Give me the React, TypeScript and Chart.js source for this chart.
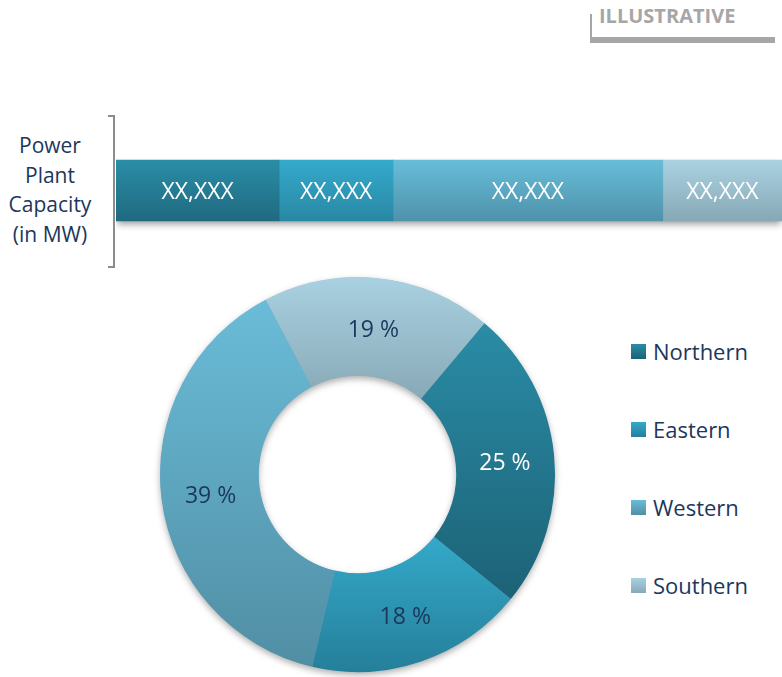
import React, { useEffect, useRef } from 'react';
import { Chart, registerables } from 'chart.js';

Chart.register(...registerables);

// ---------- data ----------
const regions = ['Northern', 'Eastern', 'Western', 'Southern'];
const sharePct = [25, 18, 39, 19];
const barValues = [24.5, 17.1, 40.5, 17.9];
const barLabels = ['XX,XXX', 'XX,XXX', 'XX,XXX', 'XX,XXX'];
const axisTitleLines = ['Power', 'Plant', 'Capacity', '(in MW)'];
const stampText = 'ILLUSTRATIVE';

// ---------- styles ----------
const NAVY = '#1b375c';
const WHITE = 'rgb(255, 255, 255)';
const FONT = '"Open Sans", "DejaVu Sans", sans-serif';
const sliceGrad: string[][] = [
  ['#2a8ca6', '#1c6276'],
  ['#34a9c9', '#257f9a'],
  ['#6abcd8', '#518ea4'],
  ['#a9d1e1', '#88a9b6'],
];
const barGrad: string[][] = [
  ['#2a8da7', '#1f6a80'],
  ['#34aacb', '#2988a4'],
  ['#67bdd9', '#4f92aa'],
  ['#aad2e2', '#87a8b5'],
];
const darkSlice = [true, false, false, false];
const ROTATION = 40;
const BAR_THICK = 61;

function sliceGradient(c: any) {
  const chart = c.chart;
  const i = c.dataIndex ?? 0;
  const cols = sliceGrad[i] || sliceGrad[0];
  const area = chart.chartArea;
  const meta = chart.getDatasetMeta(0);
  const ctrl: any = meta && meta.controller;
  if (!area || !ctrl || !ctrl.outerRadius) return cols[0];
  const cy = (area.top + area.bottom) / 2;
  const R = ctrl.outerRadius;
  const r = ctrl.innerRadius;
  const data = chart.data.datasets[0].data as number[];
  const total = data.reduce((a, b) => a + b, 0);
  let start = (ROTATION * Math.PI) / 180 - Math.PI / 2;
  for (let k = 0; k < i; k++) start += (data[k] / total) * 2 * Math.PI;
  const end = start + (data[i] / total) * 2 * Math.PI;
  const ys = [Math.sin(start) * R, Math.sin(end) * R, Math.sin(start) * r, Math.sin(end) * r];
  const contains = (a: number) => {
    let t = a;
    while (t < start) t += 2 * Math.PI;
    while (t > start + 2 * Math.PI) t -= 2 * Math.PI;
    return t <= end;
  };
  if (contains(-Math.PI / 2)) ys.push(-R);
  if (contains(Math.PI / 2)) ys.push(R);
  const y0 = cy + Math.min(...ys);
  const y1 = cy + Math.max(...ys);
  const g = chart.ctx.createLinearGradient(0, y0, 0, y1);
  g.addColorStop(0, cols[0]);
  g.addColorStop(1, cols[1]);
  return g;
}

function barGradient(c: any) {
  const chart = c.chart;
  const cols = barGrad[c.datasetIndex] || barGrad[0];
  const area = chart.chartArea;
  if (!area) return cols[0];
  const cy = (area.top + area.bottom) / 2;
  const g = chart.ctx.createLinearGradient(0, cy - BAR_THICK / 2, 0, cy + BAR_THICK / 2);
  g.addColorStop(0, cols[0]);
  g.addColorStop(1, cols[1]);
  return g;
}

const ringShadow = {
  id: 'ringShadow',
  beforeDatasetsDraw(chart: any) {
    const meta = chart.getDatasetMeta(0);
    const arc = meta.data[0];
    if (!arc) return;
    const { x, y } = arc;
    const ctrl: any = meta.controller;
    const R = ctrl.outerRadius;
    const r = ctrl.innerRadius;
    const ctx = chart.ctx;
    ctx.save();
    ctx.shadowColor = 'rgba(0,0,0,0.35)';
    ctx.shadowBlur = 7;
    ctx.shadowOffsetY = 3;
    ctx.fillStyle = '#5a9fb5';
    ctx.beginPath();
    ctx.arc(x, y, R - 0.5, 0, Math.PI * 2, false);
    ctx.arc(x, y, r + 0.5, Math.PI * 2, 0, true);
    ctx.closePath();
    ctx.fill();
    ctx.restore();
  },
};

const pctLabels = {
  id: 'pctLabels',
  afterDatasetsDraw(chart: any) {
    const ctx = chart.ctx;
    const meta = chart.getDatasetMeta(0);
    meta.data.forEach((el: any, i: number) => {
      const p = el.tooltipPosition(false);
      ctx.save();
      ctx.shadowColor = 'transparent';
      ctx.globalAlpha = 1;
      ctx.font = `23px ${FONT}`;
      ctx.textAlign = 'center';
      ctx.textBaseline = 'middle';
      ctx.fillStyle = darkSlice[i] ? WHITE : NAVY;
      ctx.fillText(`${sharePct[i]} %`, p.x, p.y + 3);
      ctx.restore();
    });
  },
};

const barShadow = {
  id: 'barShadow',
  beforeDatasetsDraw(chart: any) {
    const first = chart.getDatasetMeta(0).data[0];
    const last = chart.getDatasetMeta(chart.data.datasets.length - 1).data[0];
    if (!first || !last) return;
    const ctx = chart.ctx;
    const x0 = first.base;
    const x1 = last.x;
    const y0 = first.y - first.height / 2;
    ctx.save();
    ctx.shadowColor = 'rgba(0,0,0,0.4)';
    ctx.shadowBlur = 7;
    ctx.shadowOffsetY = 4;
    ctx.fillStyle = '#2a7f98';
    ctx.fillRect(x0 + 1, y0 + 1, x1 - x0 - 2, first.height - 2);
    ctx.restore();
  },
};

const barText = {
  id: 'barText',
  afterDatasetsDraw(chart: any) {
    const ctx = chart.ctx;
    ctx.save();
    ctx.font = `23px ${FONT}`;
    ctx.textAlign = 'center';
    ctx.textBaseline = 'middle';
    ctx.fillStyle = WHITE;
    chart.data.datasets.forEach((_: any, i: number) => {
      const el = chart.getDatasetMeta(i).data[0];
      if (!el) return;
      const p = el.getCenterPoint();
      ctx.fillText(barLabels[i], p.x, p.y + 2);
    });
    ctx.restore();
  },
};

export default function App() {
  const barRef = useRef<HTMLCanvasElement>(null);
  const pieRef = useRef<HTMLCanvasElement>(null);

  useEffect(() => {
    document.body.style.margin = '0';
    const bar = new Chart(barRef.current!, {
      type: 'bar',
      data: {
        labels: ['Capacity'],
        datasets: regions.map((r, i) => ({
          label: r,
          data: [barValues[i]],
          backgroundColor: barGradient as any,
          borderWidth: 0,
          barThickness: BAR_THICK,
          stack: 's',
        })),
      },
      options: {
        indexAxis: 'y',
        responsive: false,
        animation: false,
        layout: { padding: 0 },
        scales: {
          x: { stacked: true, display: false, min: 0, max: 100 },
          y: { stacked: true, display: false },
        },
        plugins: { legend: { display: false }, tooltip: { enabled: false } },
      },
      plugins: [barShadow, barText],
    });

    const pie = new Chart(pieRef.current!, {
      type: 'doughnut',
      data: {
        labels: regions,
        datasets: [
          {
            data: sharePct,
            backgroundColor: sliceGradient as any,
            borderWidth: 0,
          },
        ],
      },
      options: {
        responsive: false,
        animation: false,
        rotation: ROTATION,
        cutout: '50%',
        layout: { padding: 10 },
        plugins: { legend: { display: false }, tooltip: { enabled: false } },
      },
      plugins: [ringShadow, pctLabels],
    });

    return () => {
      bar.destroy();
      pie.destroy();
    };
  }, []);

  return (
    <div
      style={{
        position: 'absolute',
        left: 0,
        top: 0,
        width: 782,
        height: 677,
        overflow: 'hidden',
        background: '#ffffff',
        fontFamily: FONT,
      }}
    >
      {/* stamp */}
      <div
        style={{
          position: 'absolute',
          left: 599,
          top: 6,
          fontSize: 20,
          lineHeight: '20px',
          fontWeight: 700,
          color: '#a6a6a6',
          whiteSpace: 'nowrap',
        }}
      >
        {stampText}
      </div>
      <div style={{ position: 'absolute', left: 590, top: 14, width: 2, height: 29, background: '#a6a6a6' }} />
      <div style={{ position: 'absolute', left: 590, top: 37, width: 185, height: 6, background: '#a6a6a6' }} />

      {/* left axis title */}
      <div
        style={{
          position: 'absolute',
          left: 0,
          top: 131,
          width: 100,
          textAlign: 'center',
          fontSize: 21,
          lineHeight: '29.5px',
          color: NAVY,
        }}
      >
        {axisTitleLines.map((l) => (
          <div key={l}>{l}</div>
        ))}
      </div>
      {/* bracket */}
      <div style={{ position: 'absolute', left: 113, top: 115, width: 2, height: 153, background: '#8c8c8c' }} />
      <div style={{ position: 'absolute', left: 108, top: 115, width: 6, height: 2, background: '#8c8c8c' }} />
      <div style={{ position: 'absolute', left: 108, top: 266, width: 6, height: 2, background: '#8c8c8c' }} />

      {/* stacked bar */}
      <canvas
        ref={barRef}
        width={666}
        height={81}
        style={{ position: 'absolute', left: 116, top: 150, width: 666, height: 81 }}
      />

      {/* doughnut */}
      <canvas
        ref={pieRef}
        width={415}
        height={415}
        style={{ position: 'absolute', left: 150, top: 267, width: 415, height: 415 }}
      />

      {/* legend */}
      {regions.map((r, i) => (
        <div
          key={r}
          style={{
            position: 'absolute',
            left: 631,
            top: 340 + i * 78,
            height: 22,
            display: 'flex',
            alignItems: 'flex-start',
            whiteSpace: 'nowrap',
          }}
        >
          <div
            style={{
              width: 15,
              height: 15,
              marginTop: 4,
              background: `linear-gradient(${sliceGrad[i][0]}, ${sliceGrad[i][1]})`,
            }}
          />
          <div style={{ marginLeft: 7, fontSize: 22, lineHeight: '22px', color: NAVY }}>{r}</div>
        </div>
      ))}
    </div>
  );
}
